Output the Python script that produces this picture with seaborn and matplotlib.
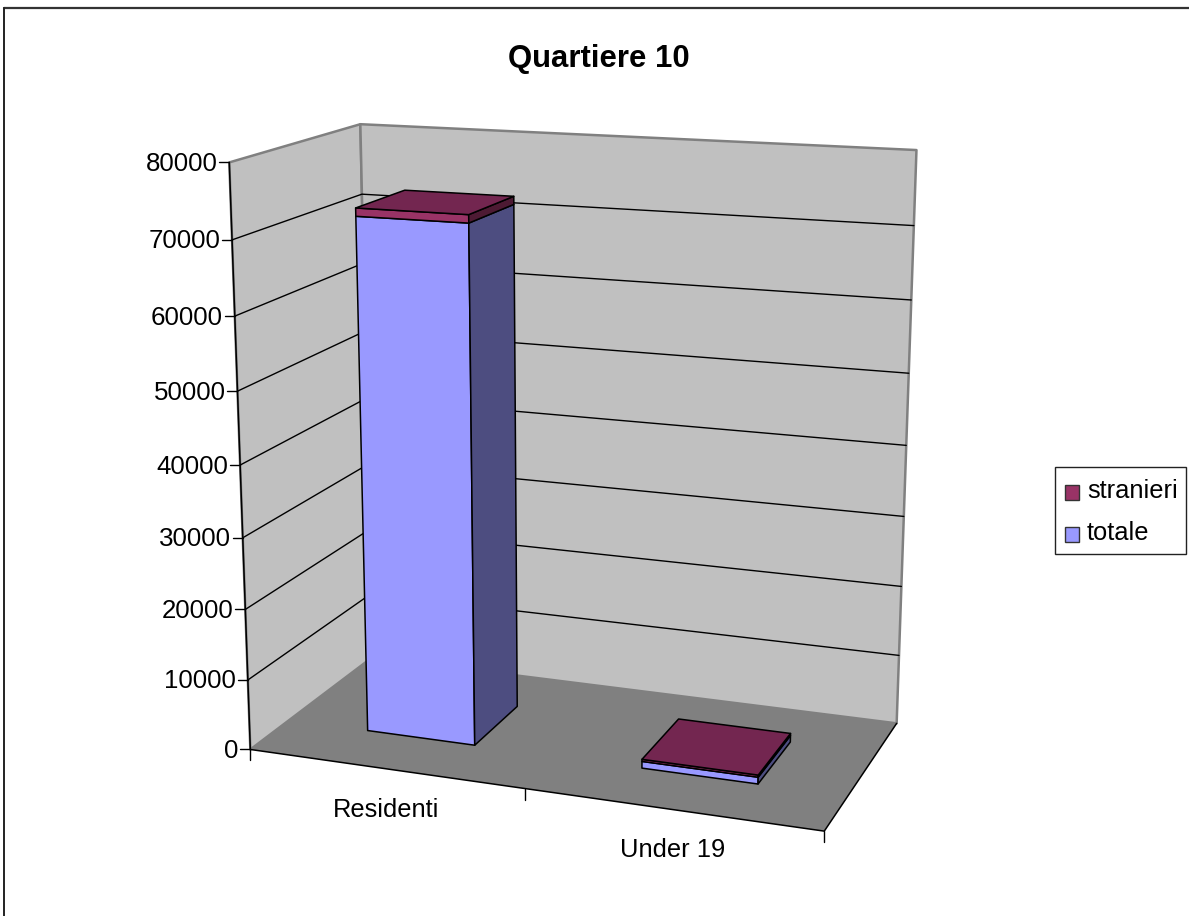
import numpy as np
import pandas as pd
import matplotlib
matplotlib.use("Agg")
import matplotlib.pyplot as plt
from matplotlib.patches import Rectangle, Polygon
import seaborn as sns

# Residents of the district, stacked by group
categories = ["Residenti", "Under 19"]
totale = [71850, 950]
stranieri = [1100, 300]
value_ticks = [0, 10000, 20000, 30000, 40000, 50000, 60000, 70000, 80000]
title = "Quartiere 10"
series_names = ["stranieri", "totale"]

WIDTH, HEIGHT = 1189, 916
Z_MAX = 80000.0
BAR_LO, BAR_HI = 0.3, 0.7   # bar footprint inside its category cell

# Calibration of the view: (category position, depth, value) -> canvas pixel
view_world = np.array([
    [0, 0, 0], [2, 0, 0], [0, 1, 0], [2, 1, 0],
    [0, 0, 80000], [0, 1, 80000], [2, 1, 80000],
    [0, 0, 40000], [0, 1, 40000], [2, 1, 40000],
    [0, 0, 70000], [0, 1, 70000], [2, 1, 70000],
    [0, 0, 10000], [0, 1, 10000], [2, 1, 10000],
], float)
view_canvas = np.array([
    [250, 749], [824, 832], [373, 657], [897, 723],
    [230, 163], [360, 123], [916.5, 151],
    [240, 465], [366, 400], [906, 445],
    [232.5, 239], [361.5, 194.5], [914, 225],
    [247.5, 680], [371, 594], [899, 655],
], float)


def fit_view(world, canvas):
    rows, rhs = [], []
    for (x, d, z), (u, v) in zip(world, canvas):
        z = z / Z_MAX
        rows.append([x, d, z, 1, 0, 0, 0, 0, -u * x, -u * d, -u * z])
        rhs.append(u)
        rows.append([0, 0, 0, 0, x, d, z, 1, -v * x, -v * d, -v * z])
        rhs.append(v)
    sol = np.linalg.lstsq(np.array(rows), np.array(rhs), rcond=None)[0]
    return np.append(sol, 1.0).reshape(3, 4)


VIEW = fit_view(view_world, view_canvas)


def project(x, d, z):
    p = VIEW @ np.array([x, d, z / Z_MAX, 1.0])
    return p[0] / p[2], p[1] / p[2]


def face(ax, corners, color, lw=1.1, edge="black", z=3):
    ax.add_patch(Polygon([project(*c) for c in corners], closed=True,
                         facecolor=color, edgecolor=edge, linewidth=lw,
                         joinstyle="round", zorder=z))


sns.set_theme(style="white")
plt.rcParams["font.family"] = ["Liberation Sans", "DejaVu Sans"]

fig = plt.figure(figsize=(WIDTH / 100, HEIGHT / 100), dpi=100, facecolor="white")
ax = fig.add_axes([0, 0, 1, 1])
ax.set_xlim(0, WIDTH)
ax.set_ylim(HEIGHT, 0)
ax.axis("off")

# Chart frame: only the top and left sides fall inside the canvas
ax.plot([4, WIDTH], [8, 8], color="#333333", lw=1.6, zorder=1)
ax.plot([4, 4], [8, HEIGHT], color="#222222", lw=1.4, zorder=1)

# Walls and floor
n_cat = len(categories)
wall_edge = "#808080"
face(ax, [(0, 0, 0), (0, 1, 0), (0, 1, Z_MAX), (0, 0, Z_MAX)], "#C0C0C0", lw=1.8, edge=wall_edge, z=1.5)
face(ax, [(0, 1, 0), (n_cat, 1, 0), (n_cat, 1, Z_MAX), (0, 1, Z_MAX)], "#C0C0C0", lw=1.8, edge=wall_edge, z=1.5)
face(ax, [(0, 0, 0), (n_cat, 0, 0), (n_cat, 1, 0), (0, 1, 0)], "#808080", lw=0, edge="#808080", z=1.6)

# Gridlines wrap the side wall and the back wall
grid_rows = []
for v in value_ticks[1:-1]:
    for pos, (x, d) in enumerate([(0, 0), (0, 1), (n_cat, 1)]):
        u, w = project(x, d, v)
        grid_rows.append({"level": v, "pos": pos, "px": u, "py": w})
grid = pd.DataFrame(grid_rows)
sns.lineplot(data=grid, x="px", y="py", units="level", estimator=None, sort=False,
             color="black", linewidth=1.0, ax=ax, legend=False, zorder=2)
ax.set_xlim(0, WIDTH)
ax.set_ylim(HEIGHT, 0)
ax.axis("off")

# Axis lines and ticks
x0, y0 = project(0, 0, 0)
x1, y1 = project(0, 0, Z_MAX)
x2, y2 = project(n_cat, 0, 0)
x3, y3 = project(n_cat, 1, 0)
ax.plot([x0, x1], [y0, y1], color="black", lw=1.1, zorder=2.2)
ax.plot([x0, x2, x3], [y0, y2, y3], color="black", lw=1.1, zorder=2.2)
for v in value_ticks:
    u, w = project(0, 0, v)
    ax.plot([u - 10, u], [w, w], color="black", lw=1.0, zorder=2.2)
    ax.text(u - 12, w + 1.5, f"{v}", ha="right", va="center", fontsize=18.6, color="black")
for i in range(n_cat + 1):
    u, w = project(i, 0, 0)
    ax.plot([u, u], [w, w + 11], color="black", lw=1.0, zorder=2.2)
for i, name in enumerate(categories):
    u, w = project(i + 0.5, 0, 0)
    ax.text(u + 1, w + 41, name, ha="center", va="center", fontsize=18.4, color="black")

# Stacked bars, drawn back to front
shade = {
    "totale": ("#9999FF", "#4D4D80", "#9999FF"),
    "stranieri": ("#993366", "#4D1A33", "#732650"),
}
for i in range(n_cat):
    lo, hi = i + BAR_LO, i + BAR_HI
    base = 0.0
    for name, values in (("totale", totale), ("stranieri", stranieri)):
        front, side, top = shade[name]
        h = base + values[i]
        face(ax, [(lo, BAR_LO, base), (hi, BAR_LO, base), (hi, BAR_LO, h), (lo, BAR_LO, h)], front)
        face(ax, [(hi, BAR_LO, base), (hi, BAR_HI, base), (hi, BAR_HI, h), (hi, BAR_LO, h)], side)
        base = h
    face(ax, [(lo, BAR_LO, base), (hi, BAR_LO, base), (hi, BAR_HI, base), (lo, BAR_HI, base)], shade["stranieri"][2])

ax.text(599, 59, title, ha="center", va="center", fontsize=22.4, fontweight="bold", color="black")

# Legend
ax.add_patch(Rectangle((1054.5, 467), 131, 87, facecolor="white", edgecolor="#222222", linewidth=1.0, zorder=4))
for name, ypos in zip(series_names, [491, 533]):
    ax.add_patch(Rectangle((1064.5, ypos - 6.5), 14.5, 15, facecolor=shade[name][0], edgecolor="#333333",
                           linewidth=1.0, zorder=5))
    ax.text(1087, ypos, name, ha="left", va="center", fontsize=18.4, color="black", zorder=5)

fig.savefig("out.png", dpi=100)
